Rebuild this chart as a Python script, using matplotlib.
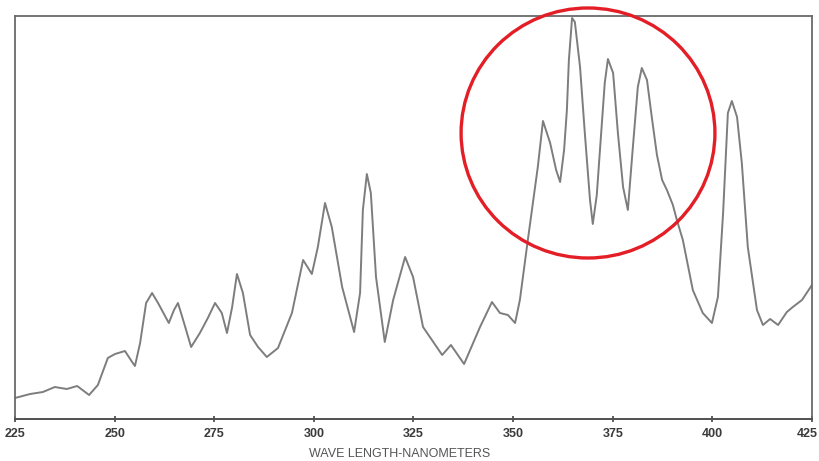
import matplotlib.pyplot as plt
import matplotlib.transforms as mtransforms
from matplotlib.patches import Ellipse
import numpy as np

# wavelength (nm) and relative absorbance (arbitrary units)
wavelength = [225.0, 228.8, 232.0, 235.0, 238.0, 240.6, 243.6, 245.8, 248.3, 250.1,
              252.6, 254.4, 255.1, 256.4, 257.9, 259.4, 260.9, 263.6, 264.9, 265.9,
              267.2, 269.2, 271.4, 273.4, 275.2, 276.9, 278.2, 279.5, 280.7, 282.2,
              284.0, 286.0, 288.2, 291.0, 294.5, 297.3, 299.5, 301.0, 302.8, 304.5,
              307.1, 310.1, 311.6, 312.3, 313.3, 314.3, 315.6, 317.8, 319.9, 322.9,
              324.9, 327.4, 332.2, 334.4, 337.7, 341.7, 344.7, 346.7, 348.7, 350.5,
              351.7, 353.7, 356.2, 357.5, 359.3, 360.8, 361.8, 362.8, 363.5, 364.0,
              364.8, 365.5, 366.8, 368.0, 369.3, 370.0, 371.0, 371.8, 373.0, 373.8,
              375.1, 376.3, 377.6, 378.8, 380.0, 381.3, 382.3, 383.6, 384.8, 386.1,
              387.4, 388.6, 390.1, 391.1, 392.6, 395.1, 397.6, 399.9, 401.4, 402.7,
              403.9, 404.9, 406.2, 407.4, 408.9, 411.2, 412.7, 414.5, 416.5, 418.7,
              420.2, 422.5, 425.0]
absorbance = [21, 25, 27, 32, 30, 33, 24, 34, 61, 65,
              68, 57, 53, 76, 116, 126, 116, 96, 109, 116,
              99, 72, 86, 101, 116, 106, 86, 112, 145, 126,
              84, 72, 62, 71, 106, 159, 145, 172, 216, 192,
              132, 87, 126, 209, 245, 226, 142, 77, 119, 162,
              142, 92, 64, 74, 55, 92, 117, 106, 104, 96,
              119, 179, 252, 298, 276, 249, 237, 269, 309, 359,
              401, 397, 352, 286, 219, 195, 224, 269, 336, 360,
              346, 286, 232, 209, 269, 332, 351, 339, 302, 264,
              239, 229, 214, 199, 179, 129, 106, 96, 122, 206,
              306, 318, 302, 256, 172, 109, 94, 100, 94, 107,
              112, 119, 134]

ticks = [225, 250, 275, 300, 325, 350, 375, 400, 425]

fig = plt.figure(figsize=(8.19, 4.61), dpi=100)
ax = fig.add_axes([0.0183, 0.0911, 0.9731, 0.8742])

ax.plot(wavelength, absorbance, color='#7d7d7d', lw=1.4,
        solid_joinstyle='round', solid_capstyle='round')

ax.set_xlim(225, 425)
ax.set_ylim(0, 403)
ax.set_xticks(ticks)
ax.set_yticks([])
ax.tick_params(axis='x', direction='inout', length=5, width=1.2, color='#444444',
               pad=4, labelsize=9, labelcolor='#3a3a3a')
for lbl in ax.get_xticklabels():
    lbl.set_fontweight('bold')
    lbl.set_family('Liberation Sans')

# last label sits right at the figure edge, nudge it in a little
last = ax.get_xticklabels()[-1]
last.set_transform(last.get_transform() +
                   mtransforms.ScaledTranslation(-5 / 100, 0, fig.dpi_scale_trans))

for side in ['top', 'left', 'right']:
    ax.spines[side].set_color('#6a6a6a')
    ax.spines[side].set_linewidth(1.3)
ax.spines['bottom'].set_color('#505050')
ax.spines['bottom'].set_linewidth(1.4)

ax.set_xlabel('WAVE LENGTH-NANOMETERS', fontsize=9, color='#555555',
              family='Liberation Sans')
ax.xaxis.set_label_coords(0.483, -0.072)

# highlight the group of peaks
ax.add_patch(Ellipse((368.8, 286), 63.7, 250, fill=False, ec='#e41e26',
                     lw=2.4, clip_on=False, zorder=5))

plt.savefig('out.png', dpi=100)
